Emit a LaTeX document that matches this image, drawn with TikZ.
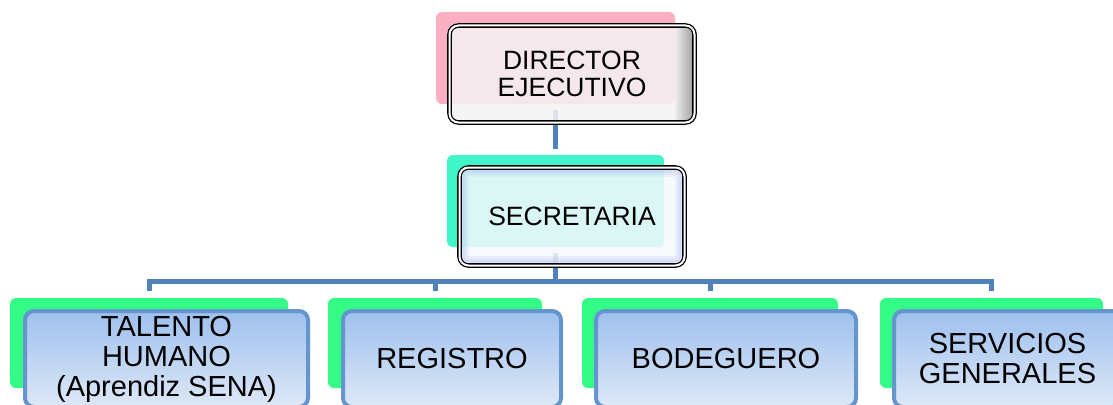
\documentclass[tikz,border=0pt]{standalone}
\usepackage{fontspec}
\setmainfont{Liberation Sans}
\usetikzlibrary{backgrounds}
\definecolor{connc}{RGB}{79,129,189}
\definecolor{pinkc}{RGB}{250,175,195}
\definecolor{aquac}{RGB}{64,245,200}
\definecolor{greenc}{RGB}{52,252,134}
\definecolor{bordc}{RGB}{100,150,205}
\definecolor{btop}{RGB}{158,192,238}
\definecolor{bbot}{RGB}{222,232,247}
\definecolor{dirfill}{RGB}{244,243,244}
\definecolor{secfill}{RGB}{246,248,253}
\definecolor{glowc}{RGB}{150,175,235}
\tikzset{
  backbox/.style={rounded corners=6pt, inner sep=0pt, minimum height=90pt, draw=none},
  gback/.style={backbox, fill=greenc},
  frontbox/.style={draw=bordc, line width=4pt, rounded corners=9pt, top color=btop, bottom color=bbot,
    inner sep=0pt, minimum height=96pt, align=center, font=\fontsize{29}{30}\selectfont},
  topbox/.style={draw=black, double=white, double distance=2pt, line width=1.3pt, rounded corners=9pt,
    fill opacity=0.85, text opacity=1, inner sep=0pt, align=center, font=\fontsize{26.5}{27}\selectfont},
  connector/.style={draw=connc, line width=5pt}
}
\begin{document}
\begin{tikzpicture}[x=1pt,y=-1pt]
\useasboundingbox (0,0) rectangle (1113,404);
\clip (0,0) rectangle (1113,404);
% director
\node[backbox, fill=pinkc, minimum width=239pt, minimum height=92pt] (dirback) at (555.5,58) {};
\node[topbox, fill=dirfill, minimum width=245pt, minimum height=97pt] (dir) at (572,74) {DIRECTOR\\EJECUTIVO};
\begin{scope}
  \clip[rounded corners=7pt] ([shift={(3,3)}]dir.north west) rectangle ([shift={(-3,-3)}]dir.south east);
  \foreach \i in {0,...,9} {
    \fill[black, opacity=0.035*\i] ([xshift={-22+2*\i}]dir.north east) rectangle ([xshift={-20+2*\i}]dir.south east);
  }
\end{scope}
% secretaria
\node[backbox, fill=aquac, minimum width=217pt, minimum height=92pt] (secback) at (555.5,201) {};
\node[topbox, fill=secfill, minimum width=225pt, minimum height=98pt] (sec) at (572,216.5) {SECRETARIA};
\begin{scope}
  \clip[rounded corners=7pt] ([shift={(3,3)}]sec.north west) rectangle ([shift={(-3,-3)}]sec.south east);
  \foreach \w in {14,10,6} {
    \draw[glowc, line width=\w pt, opacity=0.12, rounded corners=7pt] ([shift={(3,3)}]sec.north west) rectangle ([shift={(-3,-3)}]sec.south east);
  }
\end{scope}
% bottom row
\node[gback, minimum width=278pt] (tback) at (149,343) {};
\node[frontbox, minimum width=283pt] (tal) at (166.5,359) {TALENTO\\HUMANO\\(Aprendiz SENA)};
\node[gback, minimum width=214pt] (rback) at (435,343) {};
\node[frontbox, minimum width=218pt] (reg) at (452,359) {REGISTRO};
\node[gback, minimum width=256pt] (bback) at (710,343) {};
\node[frontbox, minimum width=260pt] (bod) at (726,359) {BODEGUERO};
\node[gback, minimum width=223pt] (sback) at (991.5,343) {};
\node[frontbox, minimum width=227pt] (ser) at (1007.5,359) {SERVICIOS\\GENERALES};
% connectors
\begin{scope}[on background layer]
  \coordinate (c1) at ([yshift=-6pt]dirback.south);
  \coordinate (c2) at ([yshift=6pt]secback.north);
  \draw[connector] (c1) -- (c2);
  \coordinate (c3) at ([yshift=-6pt]secback.south);
  \coordinate (bus) at ([yshift=-34pt]secback.south);
  \coordinate (d1) at ([yshift=7pt]tback.north);
  \coordinate (d2) at ([yshift=7pt]rback.north);
  \coordinate (d3) at ([yshift=7pt]bback.north);
  \coordinate (d4) at ([yshift=7pt]sback.north);
  \draw[connector] (c3) -- (bus) -| (d1);
  \draw[connector] (bus) -| (d2);
  \draw[connector] (bus) -| (d3);
  \draw[connector] (bus) -| (d4);
\end{scope}
\end{tikzpicture}
\end{document}
